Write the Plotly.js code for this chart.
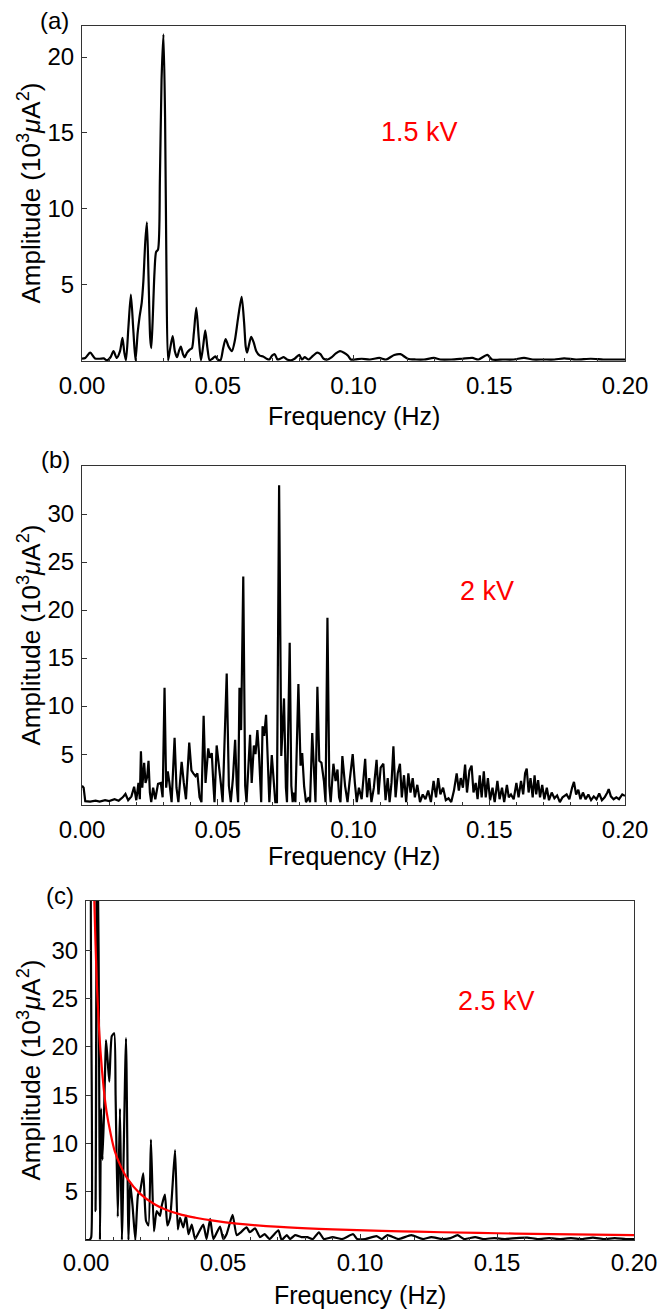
<!DOCTYPE html>
<html>
<head>
<meta charset="utf-8">
<script src="https://cdn.plot.ly/plotly-3.0.1.min.js"></script>
<style>html,body{margin:0;padding:0;background:#fff;}#chart{width:659px;height:1312px;}</style>
</head>
<body>
<div id="chart"></div>
<script>
// ---------- Data ----------
const panelLabels = ["(a)", "(b)", "(c)"];
const voltageLabels = ["1.5 kV", "2 kV", "2.5 kV"];
const xTickVals = [0, 0.05, 0.10, 0.15, 0.20];
const xTickText = ["0.00", "0.05", "0.10", "0.15", "0.20"];
const yTickValsA = [5, 10, 15, 20];
const yTickValsB = [5, 10, 15, 20, 25, 30];
const yTickValsC = [5, 10, 15, 20, 25, 30];

// (a) 1.5 kV
const freqA = [0.0000,0.0012,0.0030,0.0048,0.0065,0.0080,0.0092,0.0105,0.0116,0.0128,0.0140,0.0149,0.0156,0.0162,0.0171,0.0180,0.0189,0.0197,0.0205,0.0212,0.0220,0.0226,0.0233,0.0239,0.0245,0.0251,0.0255,0.0260,0.0267,0.0273,0.0280,0.0287,0.0293,0.0300,0.0306,0.0311,0.0317,0.0325,0.0334,0.0342,0.0350,0.0357,0.0364,0.0372,0.0378,0.0387,0.0397,0.0405,0.0412,0.0421,0.0430,0.0438,0.0446,0.0454,0.0462,0.0470,0.0480,0.0491,0.0500,0.0510,0.0520,0.0529,0.0540,0.0552,0.0563,0.0575,0.0588,0.0597,0.0603,0.0608,0.0615,0.0623,0.0632,0.0642,0.0655,0.0667,0.0680,0.0690,0.0700,0.0710,0.0720,0.0730,0.0743,0.0755,0.0770,0.0783,0.0800,0.0810,0.0820,0.0835,0.0851,0.0866,0.0878,0.0890,0.0905,0.0920,0.0935,0.0950,0.0965,0.0980,0.0990,0.1005,0.1030,0.1060,0.1095,0.1120,0.1150,0.1173,0.1200,0.1230,0.1260,0.1296,0.1320,0.1360,0.1400,0.1438,0.1460,0.1493,0.1510,0.1550,0.1590,0.1628,0.1660,0.1700,0.1740,0.1776,0.1820,0.1874,0.1920,0.1960,0.2000];
const ampA = [0.1,0.15,0.5,0.12,0.1,0.12,0.0,0.2,0.6,0.15,0.6,1.47,0.5,0.0,2.2,4.33,2.0,0.0,1.8,2.86,3.8,5.2,7.8,9.09,5.5,1.5,0.8,2.5,5.8,7.15,7.3,12,18.5,21.5,16,6,0.0,0.8,1.6,0.6,0.2,0.6,0.9,0.4,0.2,0.5,0.7,0.8,1.8,3.45,1.5,0.0,0.9,1.98,0.8,0.0,0.1,0.25,0.05,0.0,0.8,1.4,0.9,0.6,1.3,2.8,4.18,2.5,0.9,0.5,1.0,1.55,1.2,0.6,0.3,0.25,0.1,0.05,0.3,0.4,0.05,0.1,0.2,0.05,0.0,0.1,0.35,0.05,0.2,0.05,0.3,0.5,0.4,0.1,0.05,0.2,0.45,0.6,0.5,0.3,0.05,0.05,0.1,0.05,0.15,0.05,0.35,0.4,0.1,0.05,0.05,0.15,0.05,0.05,0.1,0.15,0.05,0.35,0.05,0.05,0.05,0.15,0.05,0.05,0.05,0.12,0.05,0.1,0.05,0.05,0.05];

// (b) 2 kV
const freqB = [0.0000,0.0006,0.0012,0.0030,0.0050,0.0065,0.0085,0.0100,0.0120,0.0135,0.0150,0.0160,0.0170,0.0182,0.0192,0.0200,0.0208,0.0213,0.0217,0.0222,0.0229,0.0234,0.0240,0.0245,0.0250,0.0255,0.0262,0.0270,0.0280,0.0290,0.0297,0.0304,0.0310,0.0316,0.0322,0.0330,0.0341,0.0348,0.0355,0.0367,0.0375,0.0383,0.0395,0.0403,0.0410,0.0418,0.0425,0.0433,0.0440,0.0448,0.0455,0.0465,0.0471,0.0478,0.0484,0.0488,0.0496,0.0505,0.0512,0.0518,0.0533,0.0541,0.0548,0.0556,0.0564,0.0570,0.0575,0.0580,0.0586,0.0594,0.0601,0.0606,0.0619,0.0625,0.0633,0.0639,0.0646,0.0652,0.0656,0.0660,0.0665,0.0671,0.0678,0.0685,0.0690,0.0699,0.0707,0.0712,0.0718,0.0726,0.0734,0.0744,0.0751,0.0755,0.0765,0.0771,0.0776,0.0780,0.0786,0.0797,0.0805,0.0811,0.0818,0.0825,0.0835,0.0840,0.0848,0.0855,0.0860,0.0867,0.0874,0.0882,0.0891,0.0897,0.0904,0.0911,0.0916,0.0926,0.0934,0.0941,0.0947,0.0952,0.0959,0.0969,0.0978,0.0985,0.0997,0.1005,0.1012,0.1020,0.1030,0.1043,0.1050,0.1058,0.1066,0.1075,0.1085,0.1092,0.1100,0.1110,0.1118,0.1126,0.1133,0.1140,0.1147,0.1155,0.1163,0.1171,0.1178,0.1186,0.1194,0.1202,0.1210,0.1218,0.1226,0.1235,0.1245,0.1255,0.1265,0.1275,0.1285,0.1295,0.1304,0.1312,0.1320,0.1330,0.1340,0.1350,0.1360,0.1370,0.1380,0.1388,0.1395,0.1403,0.1411,0.1418,0.1427,0.1435,0.1442,0.1450,0.1457,0.1465,0.1472,0.1480,0.1487,0.1495,0.1503,0.1512,0.1520,0.1530,0.1538,0.1547,0.1555,0.1565,0.1572,0.1580,0.1590,0.1600,0.1608,0.1617,0.1625,0.1632,0.1638,0.1645,0.1652,0.1660,0.1667,0.1673,0.1680,0.1687,0.1695,0.1703,0.1712,0.1720,0.1730,0.1740,0.1750,0.1760,0.1770,0.1785,0.1795,0.1805,0.1812,0.1820,0.1828,0.1836,0.1845,0.1855,0.1865,0.1875,0.1885,0.1895,0.1905,0.1915,0.1925,0.1935,0.1940,0.1948,0.1958,0.1968,0.1978,0.1990,0.2000];
const ampB = [1.7,1.5,0.1,0.05,0.15,0.05,0.2,0.1,0.3,0.15,0.5,0.85,0.2,0.6,1.6,0.2,2.0,0.3,5.3,1.5,4.1,2.0,2.6,4.3,1.0,0.0,1.5,0.3,1.9,2.0,0.5,11.9,1.5,3.2,2.0,0.0,6.7,1.5,0.0,4.2,2.0,0.3,6.2,3.3,3.0,2.7,3.0,0.5,0.0,9.0,2.0,5.6,4.6,5.1,1.8,0.0,5.9,3.8,1.8,0.0,13.4,1.7,0.0,2.5,6.5,1.8,0.0,11.9,7.5,23.5,1.7,0.0,7.0,2.0,5.9,5.0,7.5,5.0,1.5,0.0,7.9,6.9,9.1,3.0,0.0,4.9,1.7,0.0,0.0,33.0,4.8,10.8,1.5,0.0,16.6,1.7,0.0,1.0,0.0,12.3,3.8,5.1,1.7,0.0,0.5,0.0,7.2,2.0,0.0,12.0,4.3,4.1,2.2,0.0,19.2,1.7,0.0,4.0,2.2,3.4,0.5,0.0,4.8,1.7,0.0,2.0,5.0,2.0,0.0,1.5,0.3,4.5,0.5,2.5,0.0,1.5,4.4,0.8,3.6,4.0,0.2,2.5,0.0,2.0,5.8,0.5,3.0,4.0,0.5,2.8,0.0,3.0,1.0,2.5,0.5,1.8,0.0,0.8,0.3,1.2,0.0,2.2,0.5,2.5,0.8,1.5,0.2,0.4,0.0,1.2,3.0,1.2,2.5,1.5,3.9,1.0,3.3,3.8,1.0,2.0,0.3,2.8,0.5,3.2,0.5,2.5,0.2,1.5,0.0,2.2,0.3,1.5,0.0,1.8,0.5,0.8,0.3,2.0,0.5,2.2,0.8,3.0,3.5,1.0,2.5,0.5,2.8,0.8,2.3,0.5,1.8,0.3,1.5,0.2,1.0,0.4,0.7,0.0,0.5,0.8,0.3,1.5,2.1,0.8,1.3,0.3,1.0,0.3,0.8,0.2,0.6,0.3,0.9,0.2,0.5,1.0,1.35,0.6,0.3,0.5,0.3,0.8,0.65];

// (c) 2.5 kV
const freqC = [0.0000,0.0012,0.0019,0.0023,0.0030,0.0035,0.0040,0.0046,0.0051,0.0055,0.0060,0.0066,0.0070,0.0073,0.0078,0.0085,0.0094,0.0103,0.0108,0.0116,0.0124,0.0131,0.0146,0.0155,0.0161,0.0170,0.0180,0.0190,0.0197,0.0209,0.0219,0.0228,0.0237,0.0248,0.0258,0.0270,0.0276,0.0288,0.0297,0.0307,0.0325,0.0335,0.0343,0.0355,0.0365,0.0374,0.0386,0.0398,0.0410,0.0428,0.0440,0.0453,0.0465,0.0489,0.0501,0.0513,0.0535,0.0550,0.0565,0.0586,0.0598,0.0617,0.0635,0.0652,0.0670,0.0702,0.0714,0.0733,0.0745,0.0763,0.0786,0.0808,0.0828,0.0850,0.0868,0.0900,0.0935,0.0975,0.0990,0.1019,0.1060,0.1080,0.1100,0.1140,0.1187,0.1230,0.1260,0.1300,0.1330,0.1356,0.1380,0.1420,0.1450,0.1490,0.1530,0.1570,0.1610,0.1650,0.1690,0.1730,0.1770,0.1810,0.1850,0.1890,0.1930,0.1970,0.2000];
const ampC = [0.0,0.0,0.3,45,45,3,45,30,0.0,13.6,8.3,13.3,18,20.7,19,16.4,21.1,21.4,15,2.4,13.6,0.0,20.9,0.0,6,3.5,0.0,4.7,5,6.9,2.0,1.5,10.4,0.9,3.0,2.5,3.5,4.7,1.5,2.3,9.3,1.1,2.3,1.3,2.5,0.6,1.6,0.1,0.7,1.6,0.1,2.2,0.1,1.4,0.1,0.6,2.6,0.5,0.8,1.3,0.8,1.2,0.3,0.6,0.1,1.0,0.0,0.5,0.1,0.5,0.3,0.3,0.1,0.8,0.1,0.3,0.1,0.6,0.1,0.1,0.4,0.1,0.5,0.1,0.5,0.1,0.3,0.1,0.2,0.5,0.1,0.3,0.1,0.2,0.1,0.2,0.25,0.1,0.2,0.1,0.2,0.1,0.25,0.1,0.2,0.1,0.1];

// (c) red fitted curve
const fitFreqC = [0.0028,0.0030,0.0035,0.0041,0.0053,0.0065,0.0075,0.0090,0.0105,0.0124,0.0150,0.0197,0.0250,0.0294,0.0350,0.0400,0.0465,0.0550,0.0708,0.0850,0.0990,0.1150,0.1300,0.1500,0.1700,0.2000];
const fitAmpC  = [37,35.5,30.5,25.7,19.5,15.6,13.3,11.0,9.2,7.8,6.4,4.8,3.7,3.1,2.6,2.3,2.0,1.7,1.35,1.15,1.02,0.9,0.8,0.7,0.6,0.5];

// ---------- Layout geometry (pixels) ----------
const W = 659, H = 1312;
const px = v => v / W;
const py = v => 1 - v / H;
const boxes = [
  {l: 82, r: 625, t: 26, b: 361, yr: [-0.05, 22.05], yt: yTickValsA, title: 416, so: 3},
  {l: 82, r: 625, t: 466, b: 805, yr: [-0.3, 35.0], yt: yTickValsB, title: 856, so: 3},
  {l: 86, r: 634, t: 901, b: 1240, yr: [0, 35.1], yt: yTickValsC, title: 1295, so: 1}
];
const kvPos = [[419, 132], [487, 591], [496, 1001]];
const labPos = [[54, 20], [55, 459], [60, 895]];

const FONT = 'Liberation Sans, Arial, Helvetica, sans-serif';
const layout = {
  width: W, height: H,
  margin: {l: 0, r: 0, t: 0, b: 0, pad: 0},
  paper_bgcolor: '#ffffff', plot_bgcolor: '#ffffff',
  showlegend: false,
  font: {family: FONT, color: '#000', size: 24},
  annotations: []
};

boxes.forEach((bx, i) => {
  const s = i === 0 ? '' : String(i + 1);
  layout['xaxis' + s] = {
    domain: [px(bx.l), px(bx.r)], anchor: 'y' + s,
    range: [0, 0.2], tickmode: 'array', tickvals: xTickVals, ticktext: xTickText,
    showline: true, mirror: true, linecolor: '#333', linewidth: 1,
    ticks: 'inside', ticklen: 6, tickwidth: 1, tickcolor: '#333',
    minor: {dtick: 0.01, tick0: 0, ticks: 'inside', ticklen: 3, tickcolor: '#333', showgrid: false},
    showgrid: false, zeroline: false, tickfont: {size: 24, family: FONT, color: '#000'},
    ticklabelstandoff: bx.so, fixedrange: true
  };
  layout['yaxis' + s] = {
    domain: [py(bx.b), py(bx.t)], anchor: 'x' + s,
    range: bx.yr, tickmode: 'array', tickvals: bx.yt, ticktext: bx.yt.map(String),
    showline: true, mirror: true, linecolor: '#333', linewidth: 1,
    ticks: 'inside', ticklen: 5, tickwidth: 1, tickcolor: '#333',
    showgrid: false, zeroline: false, tickfont: {size: 24, family: FONT, color: '#000'},
    ticklabelstandoff: 2, fixedrange: true
  };
  // x title
  layout.annotations.push({
    xref: 'paper', yref: 'paper', x: px((bx.l + bx.r) / 2), y: py(bx.title),
    text: 'Frequency (Hz)', showarrow: false, xanchor: 'center', yanchor: 'middle',
    font: {size: 25, family: FONT, color: '#000'}
  });
  // y title
  layout.annotations.push({
    xref: 'paper', yref: 'paper', x: px(30), y: py((bx.t + bx.b) / 2),
    text: 'Amplitude (10<sup>3</sup><i>μ</i>A<sup>2</sup>)', showarrow: false,
    textangle: -90, xanchor: 'center', yanchor: 'middle',
    font: {size: 26, family: FONT, color: '#000'}
  });
  // panel label
  layout.annotations.push({
    xref: 'paper', yref: 'paper', x: px(labPos[i][0]), y: py(labPos[i][1]),
    text: panelLabels[i], showarrow: false, xanchor: 'center', yanchor: 'middle',
    font: {size: 24, family: FONT, color: '#000'}
  });
  // voltage label
  layout.annotations.push({
    xref: 'paper', yref: 'paper', x: px(kvPos[i][0]), y: py(kvPos[i][1]),
    text: voltageLabels[i], showarrow: false, xanchor: 'center', yanchor: 'middle',
    font: {size: 27, family: FONT, color: '#ff0000'}
  });
});

const traces = [
  {x: freqA, y: ampA, xaxis: 'x', yaxis: 'y', type: 'scatter', mode: 'lines',
   line: {color: '#000', width: 2.2, shape: 'spline', smoothing: 0.7}},
  {x: freqB, y: ampB, xaxis: 'x2', yaxis: 'y2', type: 'scatter', mode: 'lines',
   line: {color: '#000', width: 2.2}},
  {x: freqC, y: ampC, xaxis: 'x3', yaxis: 'y3', type: 'scatter', mode: 'lines',
   line: {color: '#000', width: 2.2, shape: 'spline', smoothing: 0.5}},
  {x: fitFreqC, y: fitAmpC, xaxis: 'x3', yaxis: 'y3', type: 'scatter', mode: 'lines',
   line: {color: '#ff0000', width: 2.2, shape: 'spline', smoothing: 1}}
];

Plotly.newPlot('chart', traces, layout, {staticPlot: true, displayModeBar: false});
</script>
</body>
</html>
